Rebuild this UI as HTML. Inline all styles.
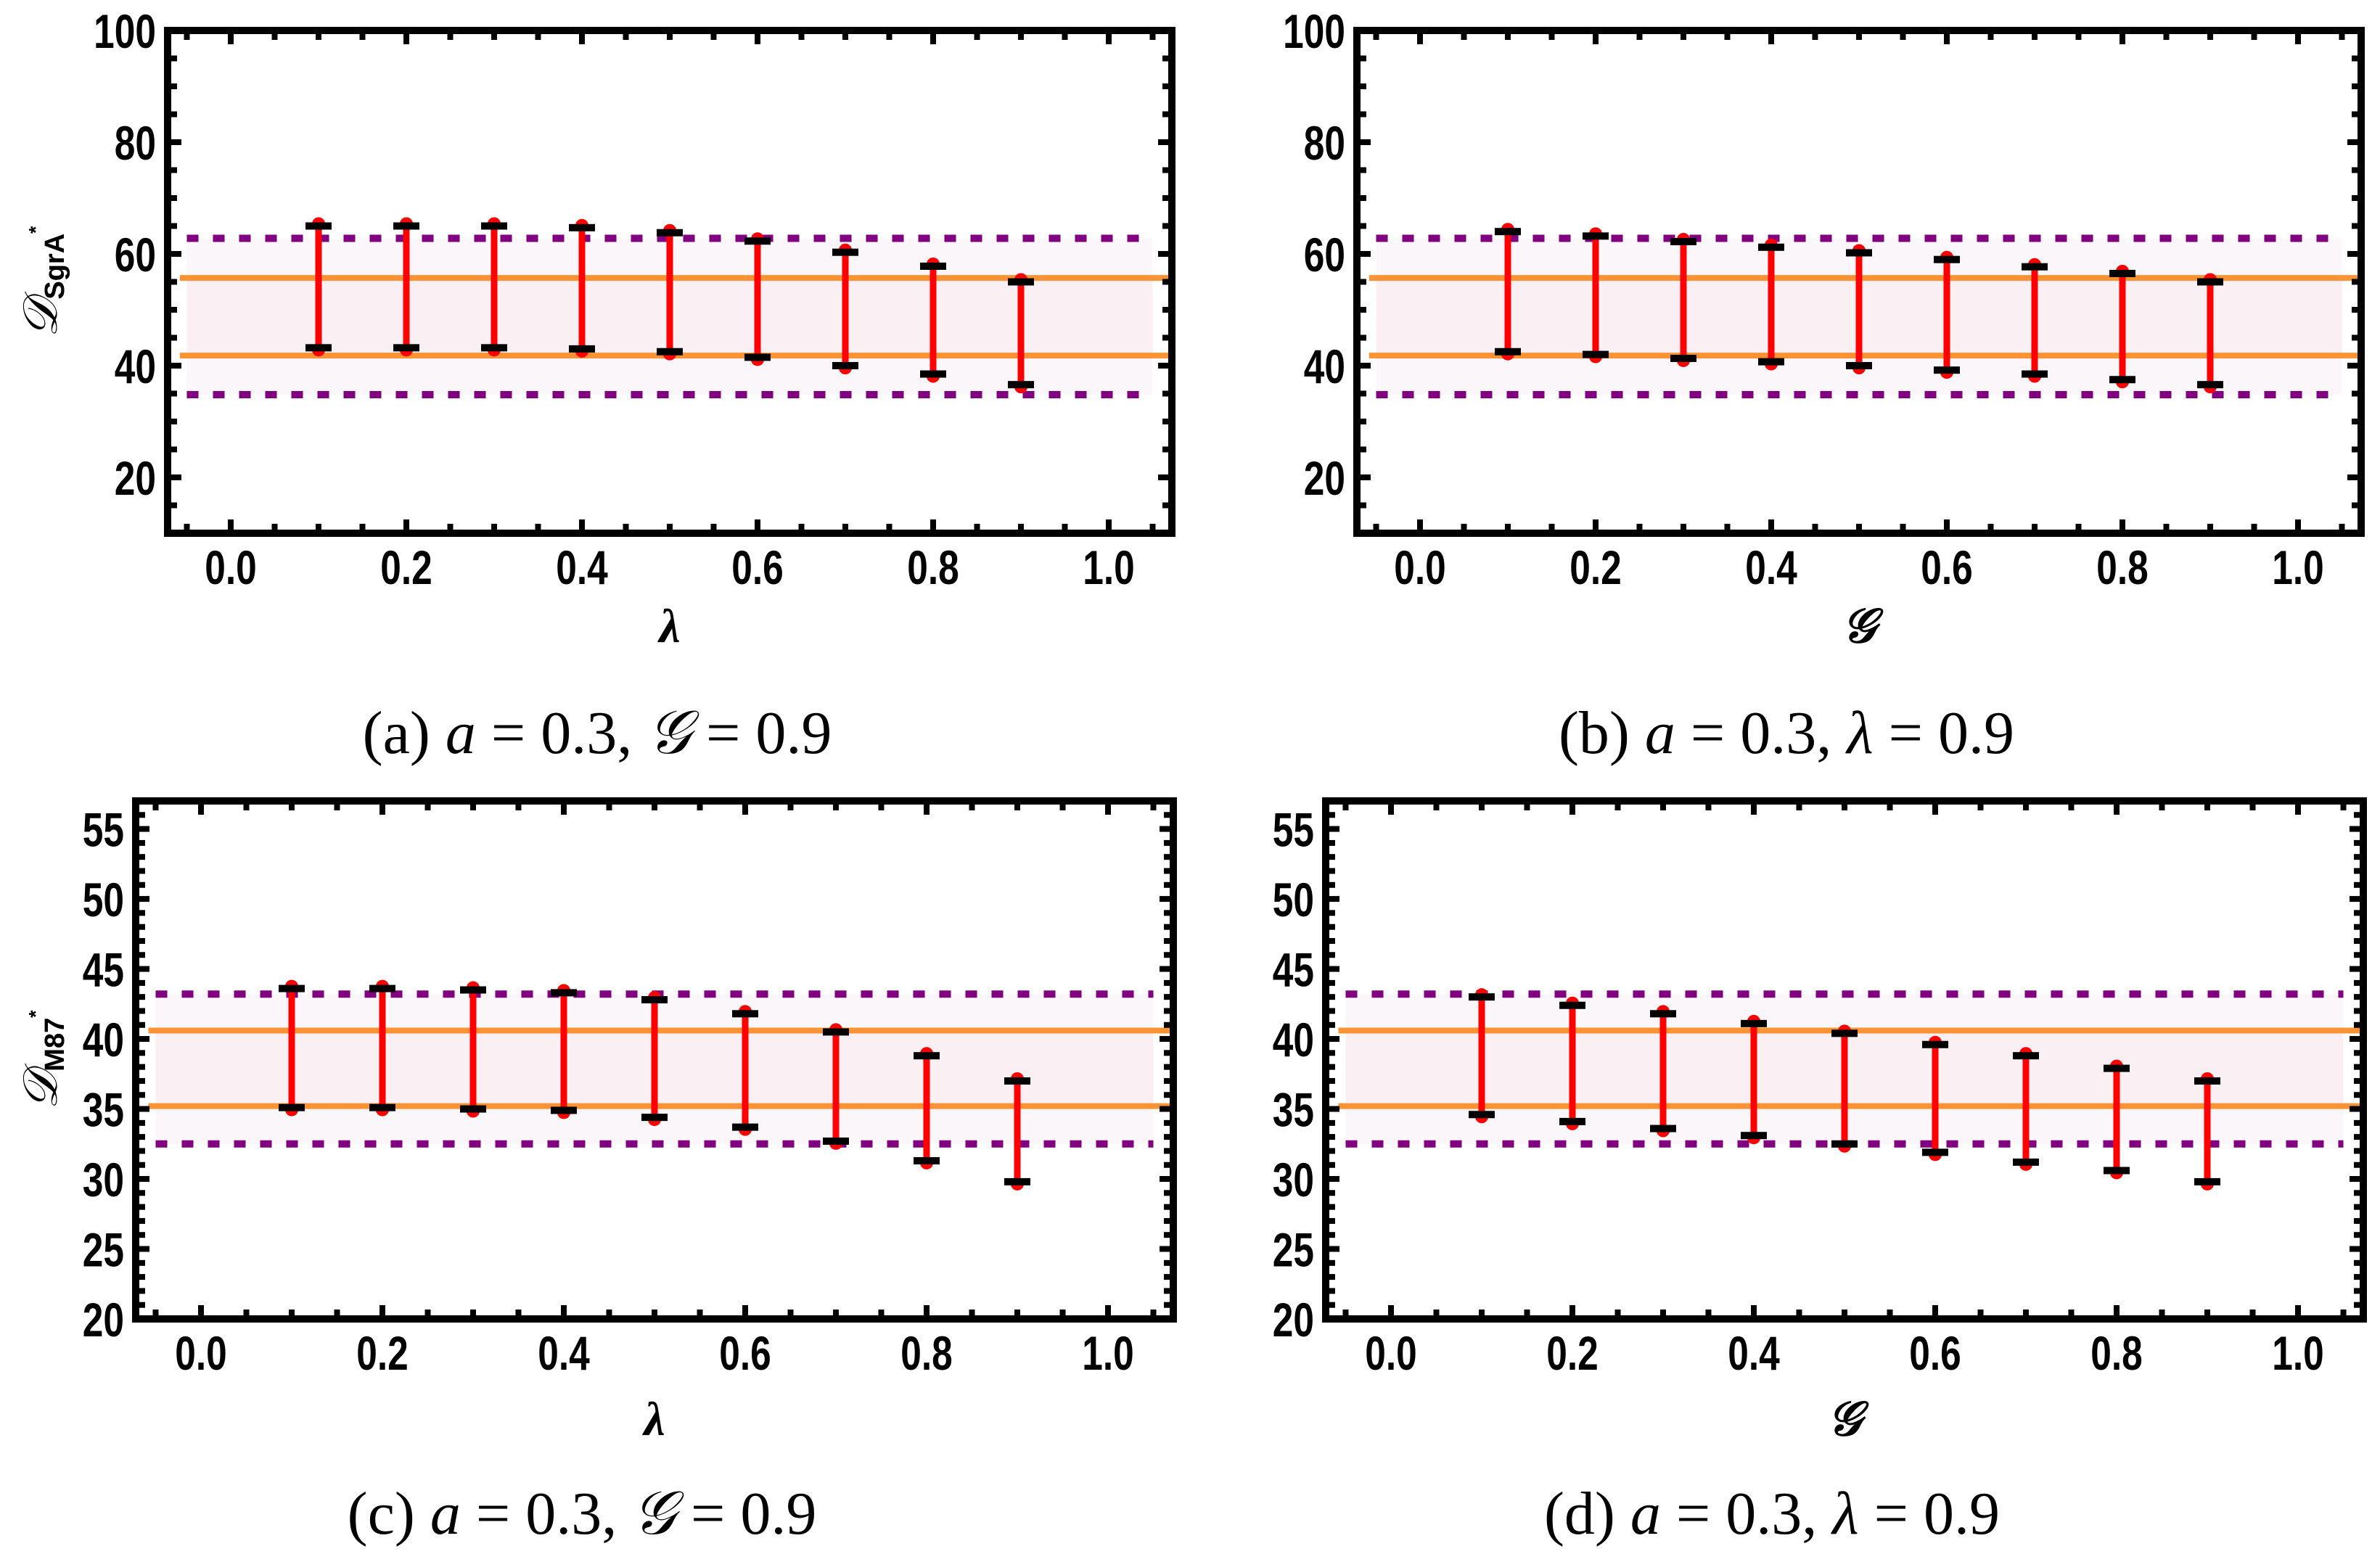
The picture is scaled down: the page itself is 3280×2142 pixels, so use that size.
<!DOCTYPE html>
<html><head><meta charset="utf-8"><style>
html,body{margin:0;padding:0;background:#fff;}
svg{display:block}
.tk{font-family:"Liberation Sans",sans-serif;font-weight:bold;font-size:66px;fill:#000}
.cap{font-family:"Liberation Serif",serif;font-size:84px;fill:#000}
</style></head><body>
<svg id="s" width="3280" height="2142" viewBox="0 0 3280 2142" xmlns="http://www.w3.org/2000/svg"></svg>
<script>
(function(){
var S=document.getElementById('s');var h='';
function P(o){
 var L=o.L,R=o.R,T=o.T,B=o.B,x0=o.x0,xs=o.xs,ymin=o.ymin,ymax=o.ymax,major=o.major,minor=o.minor,pu=o.pu,pl=o.pl,ou=o.ou,ol=o.ol,tops=o.tops,bots=o.bots,xl=o.xl,ylab=o.ylab,cap=o.cap,capY=o.capY,xlY=o.xlY;
 var X=function(v){return x0+v*xs;}, Y=function(v){return B-(v-ymin)*(B-T)/(ymax-ymin);};
 h+='<rect x="'+X(-0.05)+'" y="'+Y(pu)+'" width="'+(X(1.05)-X(-0.05))+'" height="'+(Y(pl)-Y(pu))+'" fill="#fbf6f9"/>';
 h+='<rect x="'+X(-0.05)+'" y="'+Y(ou)+'" width="'+(X(1.05)-X(-0.05))+'" height="'+(Y(ol)-Y(ou))+'" fill="#faf0f4"/>';
 [pu,pl].forEach(function(v){h+='<line x1="'+X(-0.05)+'" x2="'+X(1.05)+'" y1="'+Y(v)+'" y2="'+Y(v)+'" stroke="#800080" stroke-width="10" stroke-dasharray="16 20"/>';});
 [ou,ol].forEach(function(v){h+='<line x1="'+X(-0.058)+'" x2="'+(R-4)+'" y1="'+Y(v)+'" y2="'+Y(v)+'" stroke="#fb9334" stroke-width="8"/>';});
 for(var i=0;i<9;i++){var x=X((i+1)/10),t=Y(tops[i]),b=Y(bots[i]);
  h+='<line x1="'+x+'" x2="'+x+'" y1="'+t+'" y2="'+b+'" stroke="#f00" stroke-width="9"/>';
  h+='<circle cx="'+x+'" cy="'+(t-3)+'" r="9" fill="#f00"/><circle cx="'+x+'" cy="'+(b+3)+'" r="9" fill="#f00"/>';
  h+='<rect x="'+(x-18)+'" y="'+(t-5)+'" width="36" height="10" fill="#000"/><rect x="'+(x-18)+'" y="'+(b-5)+'" width="36" height="10" fill="#000"/>';
 }
 for(var k=-1;k<=21;k++){var v=k*0.05;var xx=X(v);if(xx<L+6||xx>R-6)continue;var maj=k%4==0;var len=maj?14:8;
  h+='<rect x="'+(xx-4)+'" y="'+(B-5-len)+'" width="8" height="'+len+'"/><rect x="'+(xx-4)+'" y="'+(T+5)+'" width="8" height="'+len+'"/>';
  if(maj) h+='<text class="tk" x="'+xx+'" y="'+(B+70)+'" text-anchor="middle" transform="translate('+xx+',0) scale(0.78,1) translate('+(-xx)+',0)">'+v.toFixed(1)+'</text>';}
 for(var w=Math.ceil(ymin/minor)*minor;w<=ymax+1e-9;w+=minor){var y=Y(w);
  var mj=Math.abs(w/major-Math.round(w/major))<1e-6;var ln=mj?14:8;
  if(y<B-4&&y>T+4) h+='<rect x="'+(L+5)+'" y="'+(y-4)+'" width="'+ln+'" height="8"/><rect x="'+(R-5-ln)+'" y="'+(y-4)+'" width="'+ln+'" height="8"/>';
  if(mj) h+='<text class="tk" x="'+(L-16)+'" y="'+(y+24)+'" text-anchor="end" transform="translate('+(L-16)+',0) scale(0.78,1) translate('+(-(L-16))+',0)">'+Math.round(w)+'</text>';}
 h+='<rect x="'+L+'" y="'+T+'" width="'+(R-L)+'" height="'+(B-T)+'" fill="none" stroke="#000" stroke-width="10"/>';
 var xm=(X(0)+X(1))/2;
 h+='<text x="'+xm+'" y="'+xlY+'" text-anchor="middle" font-family="Liberation Serif,serif" font-style="italic" font-weight="bold" font-size="66">'+xl+'</text>';
 h+='<g transform="translate(60,'+((T+B)/2)+') rotate(-90)"><text x="0" y="18" text-anchor="middle"><tspan font-family="Liberation Serif,serif" font-style="italic" font-size="66">𝒟</tspan><tspan font-family="Liberation Sans,sans-serif" font-weight="bold" font-size="38" dy="10">'+ylab+'</tspan><tspan font-family="Liberation Sans,sans-serif" font-weight="bold" font-size="26" dy="-30">*</tspan></text></g>';
 h+='<text class="cap" x="'+(xm-100)+'" y="'+capY+'" text-anchor="middle">'+cap+'</text>';
}
function M(a,b){var r={};for(var k in a)r[k]=a[k];for(var k2 in b)r[k2]=b[k2];return r;}
var topC={T:42,B:735,ymin:10,ymax:100,major:20,minor:5,pu:62.8,pl:34.8,ou:55.7,ol:41.8,xs:1210,ylab:'SgrA',capY:1038,xlY:885};
var botC={T:1104,B:1818,ymin:20,ymax:57,major:5,minor:1,pu:43.2,pl:32.5,ou:40.6,ol:35.2,xs:1250,ylab:'M87',capY:2114,xlY:1978};
P(M(topC,{L:231,R:1615,x0:318,xl:'λ',cap:'(a) <tspan font-style="italic">a</tspan> = 0.3, <tspan font-style="italic">𝒢</tspan> = 0.9',
 tops:[65,65,65,64.7,63.8,62.3,60.3,57.8,55],bots:[43.2,43.2,43.2,43,42.5,41.5,40,38.5,36.6]}));
P(M(topC,{L:1870,R:3254,x0:1957,xl:'𝒢',cap:'(b) <tspan font-style="italic">a</tspan> = 0.3, <tspan font-style="italic">λ</tspan> = 0.9',
 tops:[64,63.2,62.2,61.2,60.2,59,57.7,56.5,55],bots:[42.5,42,41.3,40.7,40,39.2,38.5,37.5,36.6]}));
P(M(botC,{L:187,R:1617,x0:277,xl:'λ',cap:'(c) <tspan font-style="italic">a</tspan> = 0.3, <tspan font-style="italic">𝒢</tspan> = 0.9',
 tops:[43.6,43.6,43.5,43.3,42.8,41.8,40.5,38.8,37],bots:[35.1,35.1,35.0,34.9,34.4,33.7,32.7,31.3,29.8]}));
P(M(botC,{L:1827,R:3257,x0:1917,xl:'𝒢',cap:'(d) <tspan font-style="italic">a</tspan> = 0.3, <tspan font-style="italic">λ</tspan> = 0.9',
 tops:[43,42.4,41.8,41.1,40.4,39.6,38.8,37.9,37],bots:[34.6,34.1,33.6,33.1,32.5,31.9,31.2,30.6,29.8]}));
S.innerHTML=h;
})();
</script>
</body></html>
